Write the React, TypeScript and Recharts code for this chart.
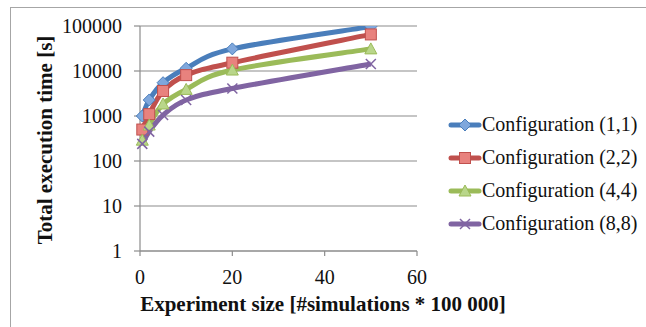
import { LineChart, Line, XAxis, YAxis, CartesianGrid } from "recharts";

const xValues = [0.5, 2, 5, 10, 20, 50];
const config11 = [1000, 2270, 5500, 11500, 31000, 97000];
const config22 = [500, 1100, 3600, 8100, 15300, 65000];
const config44 = [290, 630, 1850, 3900, 10500, 31000];
const config88 = [240, 450, 1050, 2270, 4100, 14300];
const xTicks = [0, 20, 40, 60];
const yTicks = [1, 10, 100, 1000, 10000, 100000];

const data = xValues.map((x, i) => ({
  x,
  c11: config11[i],
  c22: config22[i],
  c44: config44[i],
  c88: config88[i],
}));

const FONT = "'Liberation Serif', serif";
const GRID = "#8c8c8c";

type Shape = "diamond" | "square" | "triangle" | "cross";

const series: { key: string; name: string; color: string; fill: string; shape: Shape }[] = [
  { key: "c11", name: "Configuration (1,1)", color: "#4a7ebb", fill: "#7fa7dc", shape: "diamond" },
  { key: "c22", name: "Configuration (2,2)", color: "#c0504d", fill: "#e8827e", shape: "square" },
  { key: "c44", name: "Configuration (4,4)", color: "#9bbb59", fill: "#b9d68a", shape: "triangle" },
  { key: "c88", name: "Configuration (8,8)", color: "#8064a2", fill: "#8064a2", shape: "cross" },
];

// excel-style smoothed line (cardinal spline, 1/6 tangents)
function smoothCurve(context: any) {
  let pts: number[][] = [];
  return {
    areaStart() {},
    areaEnd() {},
    lineStart() { pts = []; },
    point(x: number, y: number) { pts.push([+x, +y]); },
    lineEnd() {
      if (!pts.length) return;
      context.moveTo(pts[0][0], pts[0][1]);
      for (let i = 0; i < pts.length - 1; i++) {
        const p0 = pts[i - 1] || pts[i];
        const p1 = pts[i];
        const p2 = pts[i + 1];
        const p3 = pts[i + 2] || p2;
        context.bezierCurveTo(
          p1[0] + (p2[0] - p0[0]) / 6, p1[1] + (p2[1] - p0[1]) / 6,
          p2[0] - (p3[0] - p1[0]) / 6, p2[1] - (p3[1] - p1[1]) / 6,
          p2[0], p2[1],
        );
      }
    },
  };
}

function marker(shape: Shape, cx: number, cy: number, color: string, fill: string, key?: string) {
  if (shape === "diamond")
    return <polygon key={key} points={`${cx},${cy - 6} ${cx + 6},${cy} ${cx},${cy + 6} ${cx - 6},${cy}`} fill={fill} stroke={color} strokeWidth={1} />;
  if (shape === "square")
    return <rect key={key} x={cx - 5.5} y={cy - 5.5} width={11} height={11} fill={fill} stroke={color} strokeWidth={1} />;
  if (shape === "triangle")
    return <polygon key={key} points={`${cx},${cy - 6} ${cx + 6},${cy + 5} ${cx - 6},${cy + 5}`} fill={fill} stroke={color} strokeWidth={1} />;
  return (
    <g key={key} stroke={color} strokeWidth={1.5}>
      <line x1={cx - 5} y1={cy - 5} x2={cx + 5} y2={cy + 5} />
      <line x1={cx - 5} y1={cy + 5} x2={cx + 5} y2={cy - 5} />
    </g>
  );
}

function ChartLegend() {
  return (
    <div style={{ position: "absolute", left: 448, top: 108, fontFamily: FONT, fontSize: 20, color: "#111" }}>
      {series.map((s) => (
        <div key={s.key} style={{ display: "flex", alignItems: "center", height: 33 }}>
          <svg width={34} height={16}>
            <line x1={3} y1={8} x2={31} y2={8} stroke={s.color} strokeWidth={5} strokeLinecap="round" />
            {marker(s.shape, 17, 8, s.color, s.fill)}
          </svg>
          <span>{s.name}</span>
        </div>
      ))}
    </div>
  );
}

export default function App() {
  return (
    <div style={{ position: "absolute", top: 0, left: 0, width: 646, height: 327, background: "#fff", overflow: "hidden" }}>
      <div style={{ position: "absolute", left: 10, top: 7, width: 700, height: 400, borderTop: "1px solid #a6a6a6", borderLeft: "1px solid #a6a6a6" }} />
      <LineChart width={646} height={327} data={data} margin={{ top: 26, right: 229, bottom: 46, left: 0 }} style={{ position: "absolute", top: 0, left: 0 }}>
        <CartesianGrid vertical={false} stroke={GRID} strokeWidth={1.2} />
        <XAxis
          dataKey="x"
          type="number"
          domain={[0, 60]}
          ticks={xTicks}
          height={30}
          stroke={GRID}
          strokeWidth={1.2}
          tickSize={5}
          tickMargin={14}
          tick={{ fill: "#111", fontSize: 20, fontFamily: FONT }}
          label={{
            content: () => (
              <text x={323} y={304} textAnchor="middle" dominantBaseline="central" fontFamily={FONT} fontWeight="bold" fontSize={21} fill="#111">
                Experiment size [#simulations * 100 000]
              </text>
            ),
          }}
        />
        <YAxis
          type="number"
          scale="log"
          domain={[1, 100000]}
          ticks={yTicks}
          allowDataOverflow
          width={140}
          stroke={GRID}
          strokeWidth={1.2}
          tickSize={6}
          tickMargin={12}
          tick={{ fill: "#111", fontSize: 20, fontFamily: FONT }}
          label={{
            content: () => (
              <text x={45} y={140} transform="rotate(-90 45 140)" textAnchor="middle" dominantBaseline="central" fontFamily={FONT} fontWeight="bold" fontSize={21} fill="#111">
                Total execution time [s]
              </text>
            ),
          }}
        />
        {series.map((s) => (
          <Line
            key={s.key}
            dataKey={s.key}
            name={s.name}
            type={smoothCurve as any}
            stroke={s.color}
            strokeWidth={5}
            isAnimationActive={false}
            dot={(p: any) => marker(s.shape, p.cx, p.cy, s.color, s.fill, `${s.key}-${p.index}`)}
            activeDot={false}
          />
        ))}
      </LineChart>
      <ChartLegend />
    </div>
  );
}
